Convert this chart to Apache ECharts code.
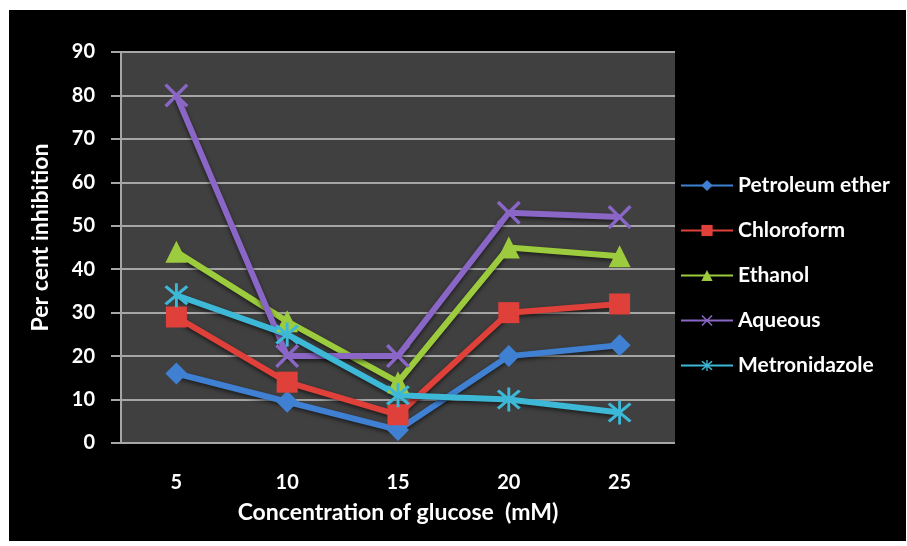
<!DOCTYPE html>
<html>
<head>
<meta charset="utf-8">
<script src="https://cdn.jsdelivr.net/npm/echarts@6/dist/echarts.min.js"></script>
<style>
    body { margin: 0; background: #fff; }
    #main { position: absolute; left: 9px; top: 10px; width: 897px; height: 531px; background: #000; }
</style>
</head>
<body>
<div id="main"></div>
<script>
    // 数据
    var categories = ['5', '10', '15', '20', '25'];
    var seriesNames = ['Petroleum ether', 'Chloroform', 'Ethanol', 'Aqueous', 'Metronidazole'];
    var petroleum = [16, 9.5, 3, 20, 22.5];
    var chloroform = [29, 14, 6.5, 30, 32];
    var ethanol = [44, 28, 14, 45, 43];
    var aqueous = [80, 20, 20, 53, 52];
    var metronidazole = [34, 25, 11, 10, 7];
    var yTicks = [0, 10, 20, 30, 40, 50, 60, 70, 80, 90];

    var colors = ['#3f80d2', '#e0403a', '#9ccb3e', '#8a66c6', '#3db8d6'];
    var xPath = 'path://M1,0 L5,4 L9,0 L10,1 L6,5 L10,9 L9,10 L5,6 L1,10 L0,9 L4,5 L0,1 Z';
    var starPath = 'path://M1,0 L5,4 L9,0 L10,1 L6,5 L10,9 L9,10 L5,6 L1,10 L0,9 L4,5 L0,1 Z M4.4,-1 L5.6,-1 L5.6,11 L4.4,11 Z';
    var symbols = ['diamond', 'rect', 'triangle', xPath, starPath];
    var sizes = [22, 21, 22, 24, 24];
    var values = [petroleum, chloroform, ethanol, aqueous, metronidazole];

    var font = 'Lato, "Open Sans", sans-serif';

    var myChart = echarts.init(document.getElementById('main'));

    var series = [];
    for (var i = 0; i < seriesNames.length; i++) {
        series.push({
            name: seriesNames[i],
            type: 'line',
            data: values[i],
            symbol: symbols[i],
            symbolSize: sizes[i],
            color: colors[i],
            lineStyle: {width: 6, color: colors[i], shadowBlur: 4, shadowColor: 'rgba(0,0,0,0.6)', shadowOffsetY: 2},
            itemStyle: {color: colors[i]}
        });
    }

    var option = {
        animation: false,
        textStyle: {fontFamily: font},
        grid: {
            left: 112, top: 42, width: 554, height: 391,
            show: true, backgroundColor: '#404040', borderWidth: 0
        },
        legend: {
            orient: 'vertical',
            left: 671, top: 165,
            padding: 0,
            itemWidth: 52, itemHeight: 14,
            itemGap: 24,
            textStyle: {color: '#fff', fontSize: 21, fontWeight: 'bold', fontFamily: font},
            data: seriesNames
        },
        xAxis: {
            type: 'category',
            data: categories,
            boundaryGap: true,
            name: 'Concentration of glucose  (mM)',
            nameLocation: 'middle',
            nameGap: 58,
            nameTextStyle: {color: '#fff', fontSize: 23, fontWeight: 'bold', fontFamily: font},
            axisLine: {show: false},
            axisTick: {show: false},
            axisLabel: {color: '#fff', fontSize: 20, fontWeight: 'bold', margin: 30}
        },
        yAxis: {
            type: 'value',
            min: yTicks[0], max: yTicks[yTicks.length - 1], interval: 10,
            name: 'Per cent inhibition',
            nameLocation: 'middle',
            nameGap: 69,
            nameTextStyle: {color: '#fff', fontSize: 23, fontWeight: 'bold', fontFamily: font, padding: [0, 0, 0, 20]},
            axisLine: {show: true, lineStyle: {color: '#a6a6a6', width: 2}},
            axisTick: {show: true, length: 10, lineStyle: {color: '#a6a6a6', width: 2}},
            splitLine: {lineStyle: {color: '#a6a6a6', width: 2}},
            axisLabel: {color: '#fff', fontSize: 20, fontWeight: 'bold', margin: 26}
        },
        series: series
    };

    myChart.setOption(option);
</script>
</body>
</html>
